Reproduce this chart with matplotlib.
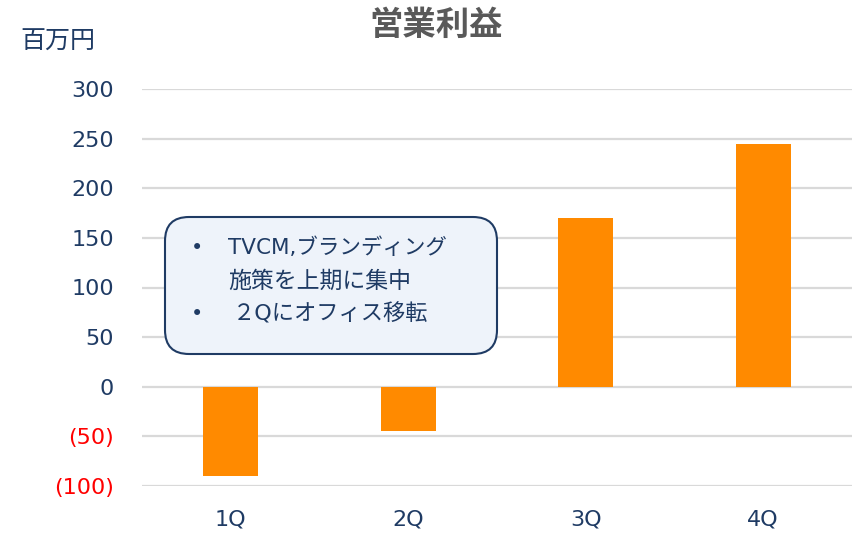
import matplotlib.pyplot as plt
from matplotlib.patches import FancyBboxPatch
from matplotlib.ticker import FuncFormatter
from matplotlib.transforms import IdentityTransform

plt.rcParams['font.family'] = ['DejaVu Sans', 'Noto Sans CJK JP']

# データ
quarters = ['1Q', '2Q', '3Q', '4Q']
profit = [-90, -45, 170, 245]
yticks = [-100, -50, 0, 50, 100, 150, 200, 250, 300]
note_lines = ['TVCM,ブランディング', '施策を上期に集中', '２Qにオフィス移転']

navy = '#1F3B64'
orange = '#FF8A00'

fig = plt.figure(figsize=(8.52, 5.33), dpi=100)
ax = fig.add_axes([142 / 852, 1 - 486 / 533, 710 / 852, 397 / 533])

ax.bar(range(len(quarters)), profit, width=0.31, color=orange, zorder=3)
ax.set_xlim(-0.5, 3.5)
ax.set_ylim(-100, 300)
ax.set_yticks(yticks)
ax.set_xticks(range(len(quarters)))
ax.set_xticklabels(quarters)
ax.yaxis.set_major_formatter(FuncFormatter(lambda v, p: f'({abs(int(v))})' if v < 0 else f'{int(v)}'))
ax.grid(axis='y', color='#D9D9D9', lw=1.6, zorder=0)
for s in ax.spines.values():
    s.set_visible(False)
ax.tick_params(length=0, labelsize=16, colors=navy)
ax.tick_params(axis='y', pad=20)
ax.tick_params(axis='x', pad=17)
for v, lab in zip(yticks, ax.get_yticklabels()):
    if v < 0:
        lab.set_color('red')

fig.text(436 / 852, 1 - 25 / 533, '営業利益', ha='center', va='center',
         fontsize=24, fontweight='bold', color='#595959')
fig.text(20 / 852, 1 - 42 / 533, '百万円', ha='left', va='center', fontsize=18, color=navy)

# 吹き出し
box = FancyBboxPatch((165, 533 - 354), 332, 137, boxstyle='round,pad=0,rounding_size=24',
                     transform=IdentityTransform(), facecolor='#EEF3FA', edgecolor=navy,
                     lw=1.5, zorder=5)
fig.patches.append(box)
fig.text(197 / 852, 1 - 248 / 533, '•', ha='center', va='center', fontsize=15, color=navy, zorder=6)
fig.text(197 / 852, 1 - 314 / 533, '•', ha='center', va='center', fontsize=15, color=navy, zorder=6)
fig.text(228 / 852, 1 - 248 / 533, note_lines[0], ha='left', va='center', fontsize=15.5, color=navy, zorder=6)
fig.text(228 / 852, 1 - 281 / 533, note_lines[1], ha='left', va='center', fontsize=16.5, color=navy, zorder=6)
fig.text(233 / 852, 1 - 314 / 533, note_lines[2], ha='left', va='center', fontsize=16, color=navy, zorder=6)

fig.savefig('out.png', dpi=100)
